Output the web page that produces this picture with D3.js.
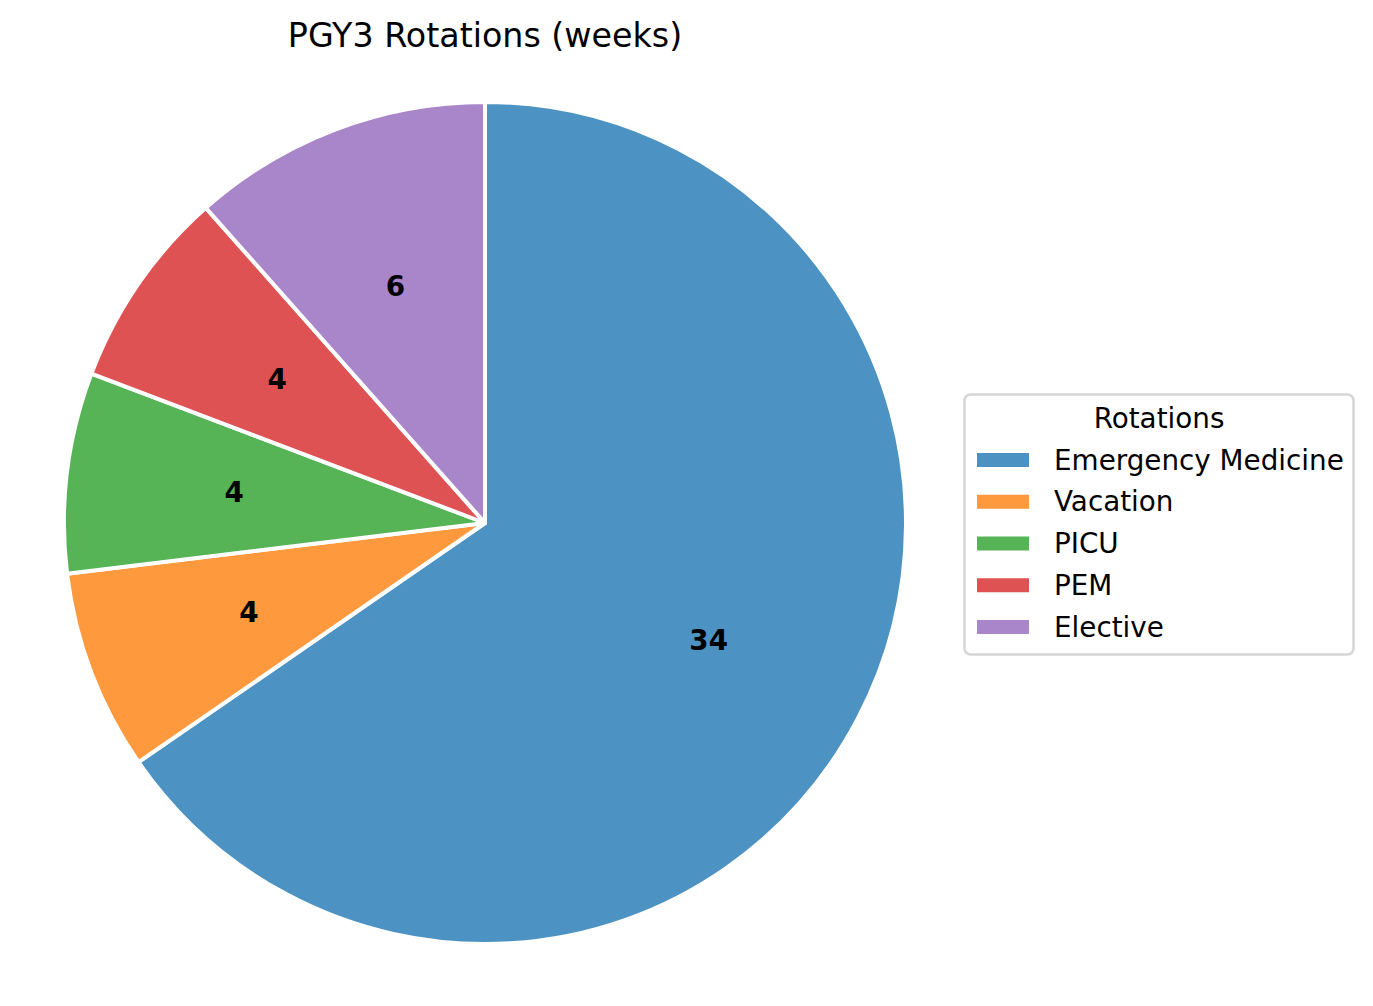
<!DOCTYPE html>
<html>
 <head>
  <title>PGY3 Rotations</title>
  <style>
  body { margin: 0; background: white; }
  svg { font-family: "DejaVu Sans", sans-serif; }
  </style>
  <script src="https://cdnjs.cloudflare.com/ajax/libs/d3/7.8.5/d3.min.js"></script>
 </head>
 <body>
  <script>
   // data
   const rotations = ["Emergency Medicine", "Vacation", "PICU", "PEM", "Elective"];
   const weeks = [34, 4, 4, 4, 6];
   const colours = ["#1f77b4", "#ff7f0e", "#2ca02c", "#d62728", "#9467bd"];

   const w = 1373;
   const h = 1006;
   const cx = 485;
   const cy = 523;
   const r = 421;

   const svg = d3.select("body")
                 .append("svg")
                 .attr("width", w)
                 .attr("height", h);

   svg.append("text")
      .attr("x", cx)
      .attr("y", 35)
      .attr("text-anchor", "middle")
      .attr("dominant-baseline", "central")
      .style("font-size", "33.3px")
      .text("PGY3 Rotations (weeks)");

   const data = rotations.map((d, i) => ({name: d, value: weeks[i], colour: colours[i]}));
   const pie = d3.pie().sort(null).value(d => d.value);
   const arc = d3.arc().innerRadius(0).outerRadius(r);
   const labelArc = d3.arc().innerRadius(r * 0.6).outerRadius(r * 0.6);

   const g = svg.append("g")
                .attr("transform", "translate(" + cx + "," + cy + ")");

   g.selectAll("path")
    .data(pie(data))
    .enter()
    .append("path")
    .attr("d", arc)
    .attr("fill", d => d.data.colour)
    .attr("fill-opacity", 0.8)
    .attr("stroke", "white")
    .attr("stroke-width", 4)
    .attr("stroke-linejoin", "round");

   g.selectAll("text")
    .data(pie(data))
    .enter()
    .append("text")
    .attr("transform", d => "translate(" + labelArc.centroid(d) + ")")
    .attr("text-anchor", "middle")
    .attr("dominant-baseline", "central")
    .style("font-size", "27.8px")
    .style("font-weight", "bold")
    .text(d => d.data.value);

   // legend
   const legend = svg.append("g").attr("id", "legend");
   legend.append("rect")
         .attr("x", 964.5)
         .attr("y", 394.5)
         .attr("width", 389)
         .attr("height", 260)
         .attr("rx", 6)
         .attr("fill", "white")
         .attr("stroke", "#d6d6d6")
         .attr("stroke-width", 2.5);
   legend.append("text")
         .attr("x", 1159)
         .attr("y", 418)
         .attr("text-anchor", "middle")
         .attr("dominant-baseline", "central")
         .style("font-size", "27.8px")
         .text("Rotations");

   const rowY = d3.scalePoint()
                  .domain(rotations)
                  .range([460, 627]);

   legend.selectAll(".swatch")
         .data(data)
         .enter()
         .append("rect")
         .attr("class", "swatch")
         .attr("x", 977)
         .attr("y", d => rowY(d.name) - 7)
         .attr("width", 52)
         .attr("height", 14)
         .attr("fill", d => d.colour)
         .attr("fill-opacity", 0.8);
   legend.selectAll(".lab")
         .data(data)
         .enter()
         .append("text")
         .attr("class", "lab")
         .attr("x", 1054)
         .attr("y", d => rowY(d.name))
         .attr("dominant-baseline", "central")
         .style("font-size", "27.8px")
         .text(d => d.name);
  </script>
 </body>
</html>
